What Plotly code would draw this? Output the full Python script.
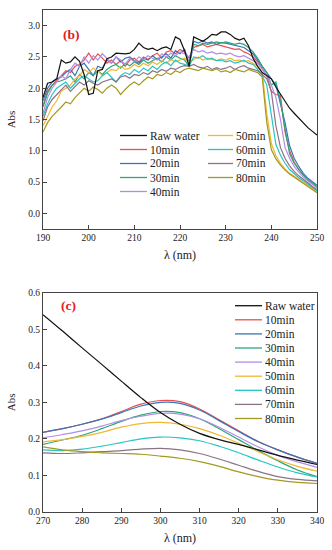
import plotly.graph_objects as go

# ---------------- data ----------------
labels = ["Raw water", "10min", "20min", "30min", "40min", "50min", "60min", "70min", "80min"]
colors = ["#111111", "#e8504f", "#3a73b8", "#2ba67a", "#b08ee6", "#f2b632", "#26c4c4", "#8c7285", "#a39a1f"]

# panel (b): 190-250 nm, 1 nm step
wl_b = list(range(190, 251))
b_raw = [1.85, 2.08, 2.10, 2.15, 2.45, 2.40, 2.42, 2.50, 2.43, 2.22,
         1.90, 1.92, 2.28, 2.30, 2.47, 2.50, 2.56, 2.55, 2.55, 2.56,
         2.62, 2.72, 2.65, 2.62, 2.64, 2.60, 2.64, 2.66, 2.62, 2.82,
         2.78, 2.60, 2.35, 2.82, 2.78, 2.75, 2.80, 2.86, 2.85, 2.90,
         2.90, 2.86, 2.80, 2.77, 2.80, 2.68, 2.48, 2.35, 2.25, 2.20,
         2.15, 2.02, 1.90, 1.78, 1.68, 1.60, 1.52, 1.44, 1.37, 1.31,
         1.25]
b_10 = [1.72, 1.95, 2.05, 2.12, 2.20, 2.28, 2.25, 2.35, 2.38, 2.45,
        2.56, 2.45, 2.55, 2.48, 2.40, 2.45, 2.38, 2.44, 2.35, 2.45,
        2.48, 2.42, 2.50, 2.46, 2.52, 2.56, 2.48, 2.58, 2.60, 2.55,
        2.62, 2.58, 2.48, 2.65, 2.68, 2.70, 2.66, 2.68, 2.70, 2.68,
        2.66, 2.65, 2.62, 2.63, 2.58, 2.55, 2.50, 2.42, 2.32, 2.20,
        1.95, 1.90, 1.88, 1.30, 1.00, 0.82, 0.70, 0.61, 0.53, 0.47,
        0.42]
b_20 = [1.80, 2.00, 2.10, 2.15, 2.18, 2.25, 2.30, 2.20, 2.35, 2.40,
        2.30, 2.20, 2.35, 2.32, 2.45, 2.40, 2.50, 2.42, 2.48, 2.50,
        2.44, 2.40, 2.48, 2.45, 2.52, 2.46, 2.50, 2.55, 2.48, 2.60,
        2.55, 2.62, 2.40, 2.75, 2.72, 2.76, 2.72, 2.74, 2.70, 2.73,
        2.72, 2.70, 2.68, 2.66, 2.65, 2.60, 2.55, 2.45, 2.35, 2.25,
        2.15, 2.05, 1.75, 1.45, 1.08, 0.88, 0.75, 0.64, 0.56, 0.50,
        0.45]
b_30 = [1.70, 1.92, 2.05, 2.10, 2.12, 2.15, 2.20, 2.10, 2.22, 2.15,
        2.25, 2.20, 2.28, 2.22, 2.30, 2.35, 2.38, 2.32, 2.40, 2.36,
        2.42, 2.38, 2.45, 2.40, 2.44, 2.48, 2.42, 2.50, 2.45, 2.52,
        2.48, 2.45, 2.35, 2.70, 2.68, 2.72, 2.70, 2.72, 2.74, 2.72,
        2.74, 2.72, 2.70, 2.72, 2.70, 2.65, 2.58, 2.48, 2.35, 2.25,
        2.05, 2.10, 1.80, 1.35, 0.95, 0.80, 0.70, 0.61, 0.54, 0.48,
        0.43]
b_40 = [1.60, 1.85, 2.00, 2.10, 2.20, 2.15, 2.30, 2.40, 2.35, 2.50,
        2.40, 2.52, 2.45, 2.55, 2.48, 2.40, 2.50, 2.45, 2.38, 2.48,
        2.42, 2.50, 2.46, 2.52, 2.48, 2.45, 2.55, 2.50, 2.56, 2.52,
        2.58, 2.55, 2.50, 2.62, 2.58, 2.60, 2.56, 2.58, 2.55, 2.56,
        2.54, 2.56, 2.52, 2.50, 2.52, 2.48, 2.45, 2.40, 2.30, 2.20,
        2.05, 1.85, 1.50, 1.05, 0.88, 0.75, 0.66, 0.58, 0.52, 0.46,
        0.41]
b_50 = [1.40, 1.55, 1.70, 1.80, 1.95, 2.00, 2.05, 2.15, 2.20, 2.30,
        2.25, 2.32, 2.28, 2.20, 2.25, 2.30, 2.28, 2.35, 2.30, 2.32,
        2.38, 2.34, 2.40, 2.36, 2.42, 2.38, 2.44, 2.40, 2.46, 2.42,
        2.45, 2.48, 2.42, 2.46, 2.50, 2.45, 2.48, 2.46, 2.44, 2.47,
        2.45, 2.48, 2.44, 2.45, 2.42, 2.44, 2.40, 2.35, 2.25, 1.60,
        1.12, 0.92, 0.80, 0.71, 0.64, 0.59, 0.54, 0.50, 0.45, 0.40,
        0.35]
b_60 = [1.55, 1.75, 1.90, 2.00, 2.05, 2.10, 2.00, 2.08, 2.15, 2.20,
        2.15, 2.10, 2.12, 2.20, 2.25, 2.18, 2.10, 2.20, 2.25, 2.22,
        2.30, 2.25, 2.32, 2.28, 2.35, 2.30, 2.38, 2.42, 2.36, 2.45,
        2.40, 2.38, 2.35, 2.50, 2.48, 2.52, 2.46, 2.48, 2.44, 2.45,
        2.42, 2.44, 2.40, 2.42, 2.45, 2.40, 2.38, 2.30, 2.20, 2.05,
        1.55, 1.10, 0.93, 0.80, 0.70, 0.63, 0.57, 0.52, 0.47, 0.41,
        0.36]
b_70 = [1.48, 1.70, 1.82, 1.90, 1.98, 2.05, 1.95, 2.02, 2.10, 2.05,
        2.12, 2.08, 2.05, 2.10, 2.12, 2.15, 2.10, 2.18, 2.20, 2.16,
        2.22, 2.20, 2.25, 2.22, 2.28, 2.25, 2.30, 2.27, 2.32, 2.30,
        2.34, 2.36, 2.35, 2.38, 2.34, 2.32, 2.35, 2.30, 2.33, 2.30,
        2.32, 2.35, 2.30, 2.34, 2.36, 2.32, 2.30, 2.28, 2.22, 2.15,
        1.95, 1.40, 1.05, 0.88, 0.76, 0.67, 0.60, 0.55, 0.49, 0.43,
        0.38]
b_80 = [1.30, 1.45, 1.55, 1.62, 1.70, 1.78, 1.75, 1.85, 1.92, 2.00,
        1.95, 2.02, 1.98, 1.92, 2.00, 2.05, 2.00, 1.90, 1.98, 2.05,
        2.10, 2.05, 2.12, 2.18, 2.15, 2.22, 2.20, 2.25, 2.22, 2.28,
        2.25, 2.30, 2.32, 2.30, 2.28, 2.32, 2.30, 2.28, 2.31, 2.26,
        2.28, 2.25, 2.30, 2.28, 2.26, 2.30, 2.28, 2.25, 2.18, 1.45,
        1.02, 0.87, 0.77, 0.69, 0.63, 0.58, 0.53, 0.49, 0.44, 0.38,
        0.33]

# panel (c): 270-340 nm, 5 nm step
wl_c = list(range(270, 341, 5))
c_raw = [0.540, 0.495, 0.449, 0.404, 0.358, 0.313, 0.272, 0.240, 0.215, 0.198, 0.185, 0.170, 0.155, 0.142, 0.130]
c_10 = [0.218, 0.228, 0.240, 0.255, 0.275, 0.295, 0.305, 0.302, 0.282, 0.252, 0.222, 0.193, 0.170, 0.150, 0.133]
c_20 = [0.218, 0.228, 0.240, 0.254, 0.272, 0.290, 0.300, 0.297, 0.279, 0.250, 0.220, 0.192, 0.170, 0.150, 0.133]
c_30 = [0.185, 0.197, 0.210, 0.228, 0.248, 0.265, 0.275, 0.272, 0.255, 0.228, 0.198, 0.168, 0.140, 0.115, 0.097]
c_40 = [0.203, 0.212, 0.222, 0.235, 0.250, 0.262, 0.270, 0.268, 0.255, 0.232, 0.205, 0.178, 0.155, 0.137, 0.122]
c_50 = [0.192, 0.198, 0.207, 0.218, 0.232, 0.242, 0.245, 0.240, 0.228, 0.210, 0.188, 0.165, 0.143, 0.125, 0.112]
c_60 = [0.170, 0.168, 0.172, 0.180, 0.190, 0.200, 0.205, 0.203, 0.195, 0.180, 0.162, 0.142, 0.123, 0.107, 0.096]
c_70 = [0.162, 0.160, 0.162, 0.165, 0.168, 0.172, 0.174, 0.170, 0.160, 0.145, 0.128, 0.111, 0.097, 0.089, 0.085]
c_80 = [0.178, 0.170, 0.165, 0.162, 0.160, 0.158, 0.153, 0.147, 0.138, 0.125, 0.110, 0.097, 0.087, 0.081, 0.078]

series_b = [b_raw, b_10, b_20, b_30, b_40, b_50, b_60, b_70, b_80]
series_c = [c_raw, c_10, c_20, c_30, c_40, c_50, c_60, c_70, c_80]

# ---------------- layout geometry (pixels) ----------------
W, H = 332, 550
ML, MR, MT, MB = 43, 15, 10, 38
PW, PH = W - ML - MR, H - MT - MB


def px(x):
    return (x - ML) / PW


def py(y):
    return (H - MB - y) / PH


FONT = "Liberation Serif"

fig = go.Figure()
order = list(range(1, 9)) + [0]  # draw raw water last (on top)
for i in order:
    fig.add_trace(go.Scatter(x=wl_b, y=series_b[i], mode="lines", name=labels[i],
                             line=dict(color=colors[i], width=1.2),
                             xaxis="x", yaxis="y", showlegend=False))
for i in order:
    fig.add_trace(go.Scatter(x=wl_c, y=series_c[i], mode="lines", name=labels[i],
                             line=dict(color=colors[i], width=1.2, shape="spline", smoothing=1.0),
                             xaxis="x2", yaxis="y2", showlegend=False))

axis_common = dict(showline=True, linecolor="#444444", linewidth=1, mirror=True,
                   ticks="inside", ticklen=4, tickcolor="#444444", showgrid=False,
                   zeroline=False, automargin=False,
                   tickfont=dict(family=FONT, size=9.5, color="#222222"))

fig.update_layout(
    width=W, height=H,
    margin=dict(l=ML, r=MR, t=MT, b=MB, autoexpand=False),
    paper_bgcolor="white", plot_bgcolor="white",
    font=dict(family=FONT, color="#222222"),
    xaxis=dict(domain=[0, 1], anchor="y", range=[190, 250], tickvals=list(range(190, 251, 10)),
               title=dict(text="λ (nm)", font=dict(family=FONT, size=12), standoff=8), **axis_common),
    yaxis=dict(domain=[py(229), 1], anchor="x", range=[-0.25, 3.25], tickvals=[0, 0.5, 1, 1.5, 2, 2.5, 3],
               tickformat=".1f",
               title=dict(text="Abs", font=dict(family=FONT, size=11), standoff=10), **axis_common),
    xaxis2=dict(domain=[0, 1], anchor="y2", range=[270, 340], tickvals=list(range(270, 341, 10)),
                title=dict(text="λ (nm)", font=dict(family=FONT, size=12), standoff=8), **axis_common),
    yaxis2=dict(domain=[0, py(292.7)], anchor="x2", range=[0, 0.6], tickvals=[0, 0.1, 0.2, 0.3, 0.4, 0.5, 0.6],
                tickformat=".1f",
                title=dict(text="Abs", font=dict(family=FONT, size=11), standoff=10), **axis_common),
)

annotations = []
shapes = []
# panel labels
annotations.append(dict(text="<b>(b)</b>", x=px(61), y=py(25), xref="paper", yref="paper",
                        showarrow=False, font=dict(family=FONT, size=13.5, color="#e02020")))
annotations.append(dict(text="<b>(c)</b>", x=px(59), y=py(306), xref="paper", yref="paper",
                        showarrow=False, font=dict(family=FONT, size=13.5, color="#e02020")))


def legend_entry(i, x0, x1, xt, yc):
    shapes.append(dict(type="line", xref="paper", yref="paper", x0=px(x0), x1=px(x1),
                       y0=py(yc), y1=py(yc), line=dict(color=colors[i], width=1.3)))
    annotations.append(dict(text=labels[i], x=px(xt), y=py(yc), xref="paper", yref="paper",
                            xanchor="left", yanchor="middle", showarrow=False,
                            font=dict(family=FONT, size=11.5, color="#222222")))


# legend of panel (b): two columns
rows_b = [135.5, 149.5, 163.5, 177.5, 191.5]
for k, i in enumerate(range(0, 5)):
    legend_entry(i, 120, 147, 148, rows_b[k])
for k, i in enumerate(range(5, 9)):
    legend_entry(i, 208, 233, 234, rows_b[k])

# legend of panel (c): one column
for k in range(9):
    legend_entry(k, 235, 262, 263, 305.7 + 14.1 * k)

fig.update_layout(annotations=annotations, shapes=shapes)

fig.write_html("out.html", config={"displayModeBar": False},
               post_script="document.body.style.margin='0';document.body.style.overflow='hidden';")
